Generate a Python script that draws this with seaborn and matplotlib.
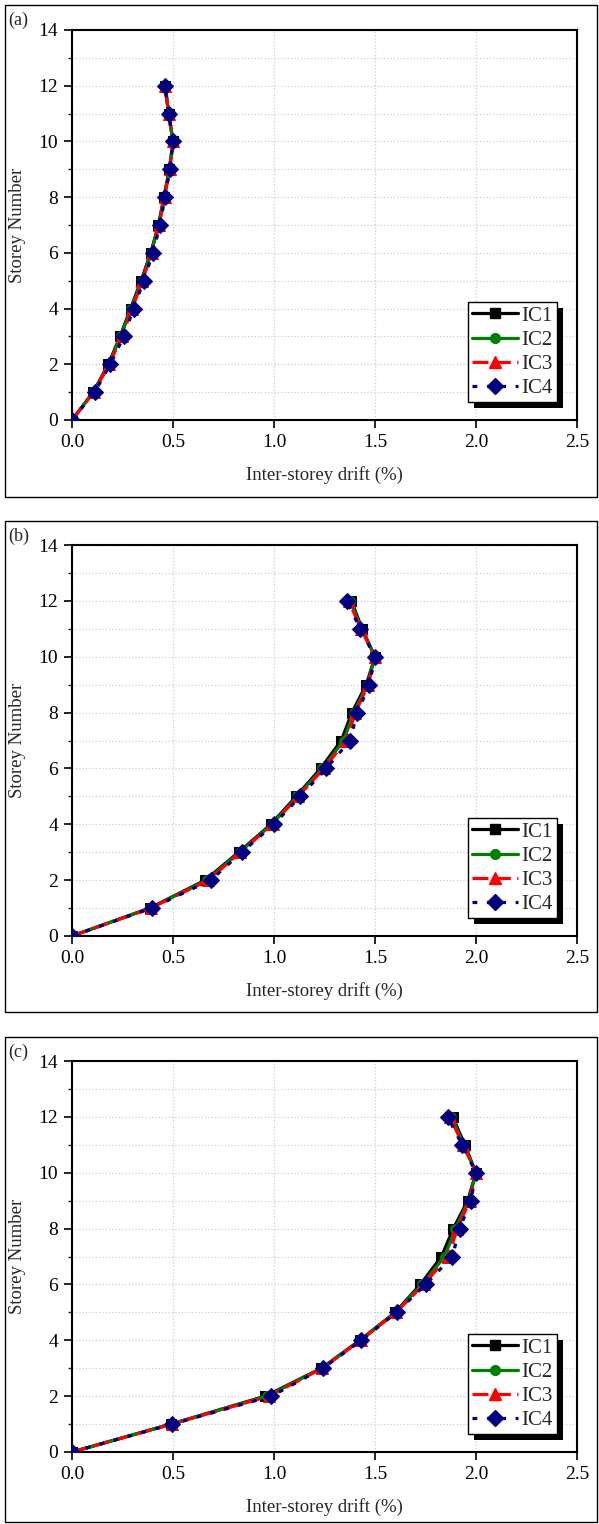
import matplotlib
matplotlib.use("Agg")
import matplotlib.pyplot as plt
from matplotlib.patches import Rectangle
from matplotlib.lines import Line2D
from matplotlib.transforms import IdentityTransform
from matplotlib.ticker import MultipleLocator
import seaborn as sns
import pandas as pd

storeys = [0, 1, 2, 3, 4, 5, 6, 7, 8, 9, 10, 11, 12]
series_names = ["IC1", "IC2", "IC3", "IC4"]
panel_labels = ["(a)", "(b)", "(c)"]

# panel (a)
a_ic1 = [0, 0.105, 0.180, 0.238, 0.290, 0.342, 0.390, 0.428, 0.455, 0.482, 0.500, 0.478, 0.462]
a_ic2 = [0, 0.106, 0.182, 0.241, 0.293, 0.345, 0.392, 0.430, 0.456, 0.483, 0.500, 0.478, 0.461]
a_ic3 = [0, 0.108, 0.185, 0.247, 0.298, 0.349, 0.395, 0.432, 0.458, 0.484, 0.500, 0.479, 0.460]
a_ic4 = [0, 0.112, 0.190, 0.256, 0.305, 0.355, 0.400, 0.436, 0.460, 0.485, 0.500, 0.479, 0.459]
# panel (b)
b_ic1 = [0, 0.385, 0.660, 0.825, 0.985, 1.110, 1.231, 1.333, 1.386, 1.457, 1.500, 1.436, 1.383]
b_ic2 = [0, 0.388, 0.668, 0.830, 0.990, 1.115, 1.240, 1.345, 1.395, 1.462, 1.500, 1.433, 1.378]
b_ic3 = [0, 0.390, 0.675, 0.834, 0.993, 1.120, 1.247, 1.358, 1.403, 1.466, 1.500, 1.430, 1.370]
b_ic4 = [0, 0.394, 0.687, 0.841, 1.000, 1.130, 1.259, 1.376, 1.413, 1.472, 1.500, 1.426, 1.361]
# panel (c)
c_ic1 = [0, 0.490, 0.957, 1.235, 1.425, 1.600, 1.725, 1.829, 1.888, 1.959, 2.000, 1.944, 1.885]
c_ic2 = [0, 0.492, 0.965, 1.237, 1.428, 1.602, 1.733, 1.845, 1.898, 1.964, 2.000, 1.940, 1.878]
c_ic3 = [0, 0.494, 0.975, 1.239, 1.430, 1.604, 1.742, 1.862, 1.908, 1.969, 2.000, 1.936, 1.870]
c_ic4 = [0, 0.497, 0.987, 1.242, 1.433, 1.607, 1.751, 1.883, 1.919, 1.975, 2.000, 1.931, 1.860]

panels = [
    [a_ic1, a_ic2, a_ic3, a_ic4],
    [b_ic1, b_ic2, b_ic3, b_ic4],
    [c_ic1, c_ic2, c_ic3, c_ic4],
]

colors = ["#000000", "#008000", "#ff0000", "#000080"]
markers = ["s", "o", "^", "D"]
linestyles = ["-", "-", (0, (5, 2)), (0, (1.5, 3))]
msizes = [7, 7, 8, 8]

sns.set_theme(style="white")
plt.rcParams["font.family"] = ["Liberation Serif", "DejaVu Serif"]
plt.rcParams["mathtext.fontset"] = "stix"

W, H = 599, 1524
fig = plt.figure(figsize=(W / 100, H / 100), dpi=100)

ax_tops = [30, 545, 1061]
ax_bottoms = [420, 936, 1452]
frames = [(5, 497), (521, 1012), (1037, 1522)]
x_left, x_right = 72, 577

axes = []
for i, vals in enumerate(panels):
    top, bot = ax_tops[i], ax_bottoms[i]
    ax = fig.add_axes([x_left / W, 1 - bot / H, (x_right - x_left) / W, (bot - top) / H])
    axes.append(ax)
    for j, name in enumerate(series_names):
        df = pd.DataFrame({"drift": vals[j], "storey": storeys})
        sns.lineplot(data=df, x="drift", y="storey", sort=False, estimator=None,
                     ax=ax, color=colors[j], marker=markers[j], markersize=msizes[j],
                     markeredgecolor=colors[j], linewidth=2.3, linestyle=linestyles[j],
                     zorder=3 + j)
    ax.set_xlim(0, 2.5)
    ax.set_ylim(0, 14)
    ax.xaxis.set_major_locator(MultipleLocator(0.5))
    ax.yaxis.set_major_locator(MultipleLocator(2))
    ax.yaxis.set_minor_locator(MultipleLocator(1))
    ax.set_xticklabels([f"{v:.1f}" for v in ax.get_xticks()])
    ax.grid(True, which="major", axis="x", color="#cfcfcf", linestyle=":", linewidth=0.9)
    ax.grid(True, which="both", axis="y", color="#cfcfcf", linestyle=":", linewidth=0.9)
    ax.set_axisbelow(True)
    for s in ax.spines.values():
        s.set_color("black")
        s.set_linewidth(1.5)
    ax.tick_params(axis="both", which="major", direction="out", length=6, width=1.2,
                   labelsize=14, colors="black", left=True, bottom=True, pad=4)
    ax.tick_params(axis="y", which="minor", direction="out", length=3, width=1.0, left=True)
    ax.set_xlabel("Inter-storey drift (%)", fontsize=13.5, labelpad=11)
    ax.set_ylabel("Storey Number", fontsize=13.5, labelpad=9)

    handles = [Line2D([], [], color=colors[j], marker=markers[j], markersize=msizes[j],
                      linewidth=2.3, linestyle=linestyles[j]) for j in range(4)]
    leg = ax.legend(handles, series_names, loc="lower right", bbox_to_anchor=(0.96, 0.045),
                    frameon=True, fancybox=False, fontsize=15, handlelength=2.2,
                    handletextpad=0.15, borderpad=0.2, labelspacing=0.22, borderaxespad=0,
                    framealpha=1)
    leg.get_frame().set_edgecolor("black")
    leg.get_frame().set_facecolor("white")
    leg.get_frame().set_linewidth(1.0)
    leg.set_zorder(20)

    # panel frame
    fy0, fy1 = frames[i]
    fig.add_artist(Rectangle((5 / W, 1 - fy1 / H), (597 - 5) / W, (fy1 - fy0) / H,
                             transform=fig.transFigure, fill=False, edgecolor="black",
                             linewidth=1.0))
    fig.text(8 / W, 1 - (fy0 + 15) / H, panel_labels[i], fontsize=13, ha="left", va="center")

fig.canvas.draw()
for ax in axes:
    leg = ax.get_legend()
    bb = leg.get_window_extent()
    ax.add_artist(Rectangle((bb.x0 + 6, bb.y0 - 6), bb.width, bb.height,
                            transform=IdentityTransform(), facecolor="black",
                            edgecolor="none", zorder=19))

fig.savefig("out.png", dpi=100)
